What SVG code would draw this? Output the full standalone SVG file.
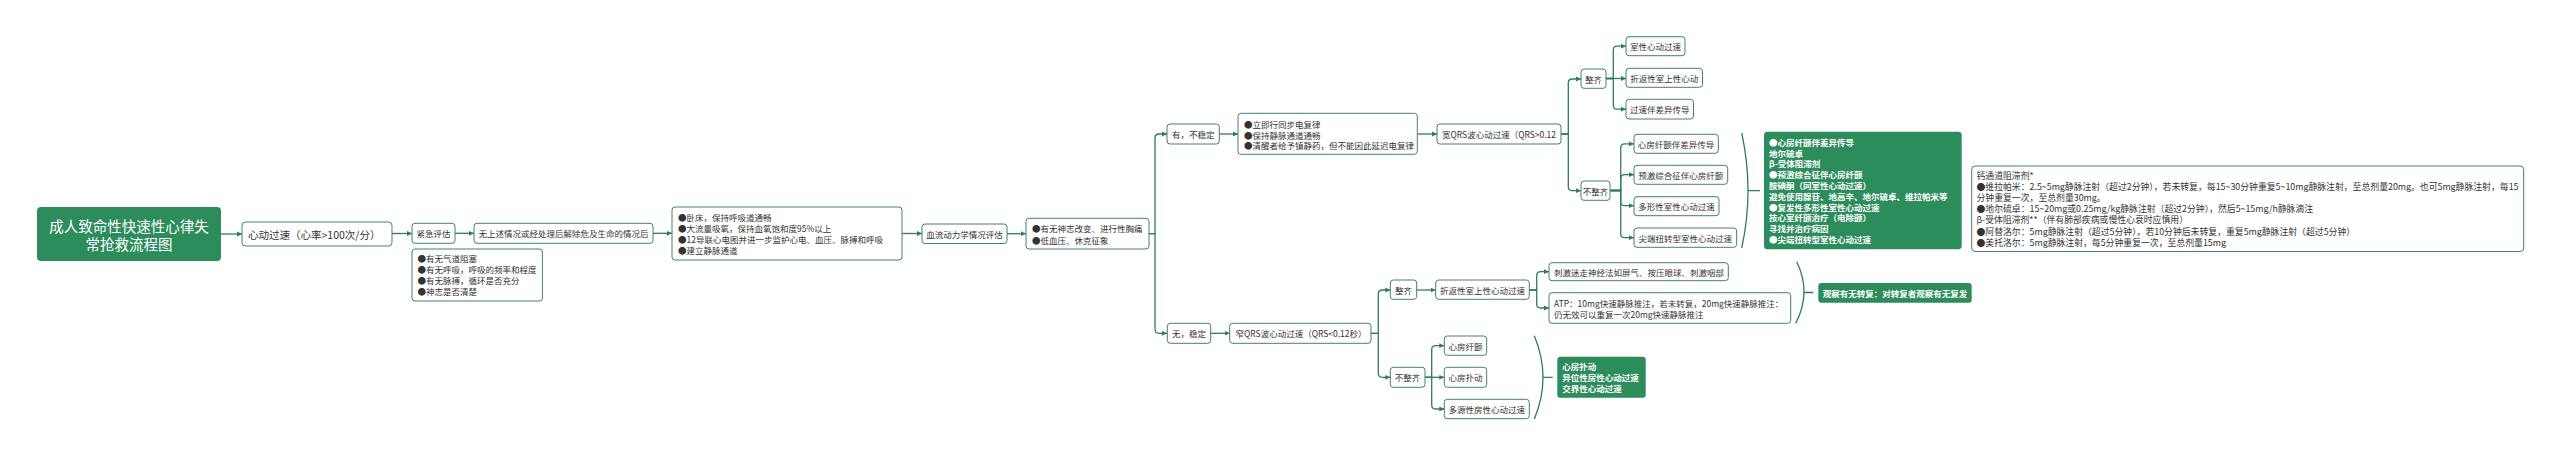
<svg xmlns="http://www.w3.org/2000/svg" width="2560" height="455" viewBox="0 0 2560 455">
<style>
text{font-family:"Noto Sans CJK SC","Noto Sans",sans-serif;font-size:8.5px;fill:#333;dominant-baseline:central}
.m{text-anchor:middle}
.n rect{fill:#fff;stroke:#44806a;stroke-width:1}
.g rect{fill:#2c8c5c}
.g text{fill:#fff;font-weight:bold}
.c path{fill:none;stroke:#2e7d59;stroke-width:1.3}
.b path{fill:none;stroke:#2e7d59;stroke-width:1.3}
#drugs text{font-size:8.85px}
</style>
<defs>
<marker id="a" markerUnits="userSpaceOnUse" markerWidth="6" markerHeight="6" refX="5" refY="3" orient="auto"><path d="M0,0.6 L5,3 L0,5.4z" fill="#2e7d59"/></marker>
</defs>
<rect width="2560" height="455" fill="#fff"/>
<g class="c" marker-end="url(#a)">
<path d="M221,234 H242"/>
<path d="M392,233.5 H412"/>
<path d="M455,233.3 H474"/>
<path d="M653,233.3 H672"/>
<path d="M902,233.5 H922"/>
<path d="M1007,233.7 H1026"/>
<path d="M1149,233.7 H1155 V138 Q1155,134 1159,134 H1167"/>
<path d="M1149,233.7 H1155 V329.3 Q1155,333.3 1159,333.3 H1167"/>
<path d="M1219.3,134 H1238"/>
<path d="M1417.3,134 H1437"/>
<path d="M1561,134 H1568.3 V83 Q1568.3,79 1572.3,79 H1581"/>
<path d="M1561,134 H1568.3 V186.7 Q1568.3,190.7 1572.3,190.7 H1581"/>
<path d="M1606,78.5 H1613.3 V50.2 Q1613.3,46.2 1617.3,46.2 H1626"/>
<path d="M1606,78.5 H1626"/>
<path d="M1606,78.5 H1613.3 V105.2 Q1613.3,109.2 1617.3,109.2 H1626"/>
<path d="M1610,190.5 H1620.7 V147.8 Q1620.7,143.8 1624.7,143.8 H1634"/>
<path d="M1610,190.5 H1620.7 V178.7 Q1620.7,174.7 1624.7,174.7 H1634"/>
<path d="M1610,190.5 H1620.7 V201.7 Q1620.7,205.7 1624.7,205.7 H1634"/>
<path d="M1610,190.5 H1620.7 V233.7 Q1620.7,237.7 1624.7,237.7 H1634"/>
<path d="M1210.7,333.3 H1229.7"/>
<path d="M1371,333.3 H1378.3 V294 Q1378.3,290 1382.3,290 H1390.3"/>
<path d="M1371,333.3 H1378.3 V373.3 Q1378.3,377.3 1382.3,377.3 H1390.3"/>
<path d="M1416.7,290 H1435.7"/>
<path d="M1425,377.3 H1431.7 V349.7 Q1431.7,345.7 1435.7,345.7 H1444.3"/>
<path d="M1425,377.3 H1444.3"/>
<path d="M1425,377.3 H1431.7 V405 Q1431.7,409 1435.7,409 H1444.3"/>
<path d="M1529.3,290 H1536.7 V275.7 Q1536.7,271.7 1540.7,271.7 H1549"/>
<path d="M1529.3,290 H1536.7 V304 Q1536.7,308 1540.7,308 H1549"/>
</g>
<g class="b">
<path d="M1741.7,133 Q1754.3,190.7 1741.7,248 M1748,190.7 H1760"/>
<path d="M1796.7,261.7 Q1811.8,292.5 1795.7,323.3 M1804,292.5 H1813.3"/>
<path d="M1534.3,335.7 Q1551.7,377.3 1534.3,419 M1543,377.3 H1552.7"/>
</g>
<g id="root" class="g"><rect x="37" y="207" width="184" height="54" rx="4"/><text class="m" x="129" y="225" style="font-size:14.5px;font-weight:normal">成人致命性快速性心律失</text><text class="m" x="129" y="243.5" style="font-size:14.5px;font-weight:normal">常抢救流程图</text></g>
<g id="tachy" class="n"><rect x="242" y="222" width="150" height="24" rx="3.5"/><text x="248" y="234" style="font-size:10.5px">心动过速（心率&gt;100次/分）</text></g>
<g id="eval" class="n"><rect x="412" y="223.3" width="43" height="20" rx="3"/><text class="m" x="433.5" y="233.3">紧急评估</text></g>
<g id="eval-items" class="n"><rect x="412" y="249" width="130.4" height="52" rx="3"/><text x="417.5" y="258.3">●有无气道阻塞</text><text x="417.5" y="269">●有无呼吸，呼吸的频率和程度</text><text x="417.5" y="280">●有无脉搏，循环是否充分</text><text x="417.5" y="291">●神志是否清楚</text></g>
<g id="none" class="n"><rect x="474" y="223.3" width="179" height="20" rx="3"/><text class="m" x="563.5" y="233.3">无上述情况或经处理后解除危及生命的情况后</text></g>
<g id="care" class="n"><rect x="672" y="207" width="230" height="53" rx="3"/><text x="678" y="216.7">●卧床，保持呼吸道通畅</text><text x="678" y="228">●大流量吸氧，保持血氧饱和度95%以上</text><text x="678" y="239">●12导联心电图并进一步监护心电、血压、脉搏和呼吸</text><text x="678" y="250.3">●建立静脉通道</text></g>
<g id="hemo" class="n"><rect x="922" y="224" width="85" height="19.5" rx="3"/><text class="m" x="964.5" y="233.7">血流动力学情况评估</text></g>
<g id="signs" class="n"><rect x="1026" y="218.3" width="123" height="30.7" rx="3"/><text x="1032" y="228.3">●有无神志改变、进行性胸痛</text><text x="1032" y="239.5">●低血压、休克征象</text></g>
<g id="unstable" class="n"><rect x="1167" y="124" width="52.3" height="20" rx="3"/><text class="m" x="1193.2" y="134">有，不稳定</text></g>
<g id="cardiovert" class="n"><rect x="1238" y="113.3" width="179.3" height="41" rx="3"/><text x="1244" y="124">●立即行同步电复律</text><text x="1244" y="134.5">●保持静脉通道通畅</text><text x="1244" y="145.3">●清醒者给予镇静药，但不能因此延迟电复律</text></g>
<g id="wide" class="n"><rect x="1437" y="124" width="124" height="20" rx="3"/><text x="1442" y="134">宽QRS波心动过速（QRS&gt;0.12</text></g>
<g id="w-reg" class="n"><rect x="1581" y="69" width="25" height="19.3" rx="3"/><text class="m" x="1593.5" y="78.7">整齐</text></g>
<g id="w-irr" class="n"><rect x="1581" y="181" width="29" height="19.3" rx="3"/><text class="m" x="1595.5" y="190.7">不整齐</text></g>
<g id="vt" class="n"><rect x="1626" y="36.7" width="59" height="19" rx="3"/><text class="m" x="1655.5" y="46.2">室性心动过速</text></g>
<g id="svt-w" class="n"><rect x="1626" y="68.3" width="76.5" height="19" rx="3"/><text class="m" x="1664.2" y="77.8">折返性室上性心动</text></g>
<g id="aberr" class="n"><rect x="1626" y="99.3" width="67.5" height="19.7" rx="3"/><text class="m" x="1659.7" y="109.2">过速伴差异传导</text></g>
<g id="af-ab" class="n"><rect x="1634" y="134.3" width="84.3" height="19" rx="3"/><text class="m" x="1676.1" y="143.8">心房纤颤伴差异传导</text></g>
<g id="wpw" class="n"><rect x="1634" y="165.3" width="93.7" height="19" rx="3"/><text class="m" x="1680.8" y="174.8">预激综合征伴心房纤颤</text></g>
<g id="pvt" class="n"><rect x="1634" y="196.7" width="85" height="19" rx="3"/><text class="m" x="1676.5" y="206.2">多形性室性心动过速</text></g>
<g id="tdp" class="n"><rect x="1634" y="228" width="102.7" height="19.3" rx="3"/><text class="m" x="1685.3" y="237.7">尖端扭转型室性心动过速</text></g>
<g id="wide-tx" class="g"><rect x="1764" y="131.7" width="197.7" height="117.6" rx="3.5"/>
<text x="1769" y="141.7">●心房纤颤伴差异传导</text>
<text x="1769" y="152.5">地尔硫卓</text>
<text x="1769" y="163.3">β-受体阻滞剂</text>
<text x="1769" y="174.1">●预激综合征伴心房纤颤</text>
<text x="1769" y="184.9">胺碘酮（同室性心动过速）</text>
<text x="1769" y="195.7">避免使用腺苷、地高辛、地尔硫卓、维拉帕米等</text>
<text x="1769" y="206.5">●复发性多形性室性心动过速</text>
<text x="1769" y="217.3">按心室纤颤治疗（电除颤）</text>
<text x="1769" y="228.1">寻找并治疗病因</text>
<text x="1769" y="238.9">●尖端扭转型室性心动过速</text>
</g>
<g id="drugs" class="n"><rect x="1971.7" y="166" width="552" height="85.5" rx="3.5"/>
<text x="1976.5" y="175.5">钙通道阻滞剂*</text>
<text x="1976.5" y="186.6">●维拉帕米：2.5~5mg静脉注射（超过2分钟），若未转复，每15~30分钟重复5~10mg静脉注射，至总剂量20mg。也可5mg静脉注射，每15</text>
<text x="1976.5" y="197.7">分钟重复一次，至总剂量30mg。</text>
<text x="1976.5" y="208.8">●地尔硫卓：15~20mg或0.25mg/kg静脉注射（超过2分钟），然后5~15mg/h静脉滴注</text>
<text x="1976.5" y="219.9">β-受体阻滞剂**（伴有肺部疾病或慢性心衰时应慎用）</text>
<text x="1976.5" y="231">●阿替洛尔：5mg静脉注射（超过5分钟），若10分钟后未转复，重复5mg静脉注射（超过5分钟）</text>
<text x="1976.5" y="242.1">●美托洛尔：5mg静脉注射，每5分钟重复一次，至总剂量15mg</text>
</g>
<g id="stable" class="n"><rect x="1167.3" y="323.3" width="43.4" height="20" rx="3"/><text class="m" x="1189" y="333.3">无，稳定</text></g>
<g id="narrow" class="n"><rect x="1229.7" y="323.3" width="141.3" height="20" rx="3"/><text x="1235.5" y="333.3">窄QRS波心动过速（QRS&lt;0.12秒）</text></g>
<g id="n-reg" class="n"><rect x="1390.3" y="280" width="26.4" height="19.3" rx="3"/><text class="m" x="1403.5" y="289.7">整齐</text></g>
<g id="n-svt" class="n"><rect x="1435.7" y="280" width="93.6" height="19.3" rx="3"/><text class="m" x="1482.5" y="289.7">折返性室上性心动过速</text></g>
<g id="n-irr" class="n"><rect x="1390.3" y="367.3" width="34.7" height="20" rx="3"/><text class="m" x="1407.6" y="377.3">不整齐</text></g>
<g id="af" class="n"><rect x="1444.3" y="336" width="42.4" height="19.3" rx="3"/><text class="m" x="1465.5" y="345.7">心房纤颤</text></g>
<g id="afl" class="n"><rect x="1444.3" y="367.3" width="42.4" height="20" rx="3"/><text class="m" x="1465.5" y="377.3">心房扑动</text></g>
<g id="mat" class="n"><rect x="1444.3" y="399.3" width="85" height="19.4" rx="3"/><text class="m" x="1486.8" y="409">多源性房性心动过速</text></g>
<g id="vagal" class="n"><rect x="1549" y="262.7" width="179.3" height="18" rx="3"/><text x="1554" y="271.7">刺激迷走神经法如屏气、按压眼球、刺激咽部</text></g>
<g id="atp" class="n"><rect x="1549" y="292.7" width="241.7" height="30.6" rx="3"/><text x="1554" y="303.3">ATP：10mg快速静脉推注，若未转复，20mg快速静脉推注：</text><text x="1554" y="314.3">仍无效可以重复一次20mg快速静脉推注</text></g>
<g id="observe" class="g"><rect x="1818.3" y="283" width="153.4" height="19.7" rx="3"/><text x="1822.7" y="292.8">观察有无转复：对转复者观察有无复发</text></g>
<g id="narrow-tx" class="g"><rect x="1557.3" y="356.7" width="88.4" height="41" rx="3"/><text x="1562.3" y="366.3">心房扑动</text><text x="1562.3" y="377.3">异位性房性心动过速</text><text x="1562.3" y="388">交界性心动过速</text></g>
</svg>
